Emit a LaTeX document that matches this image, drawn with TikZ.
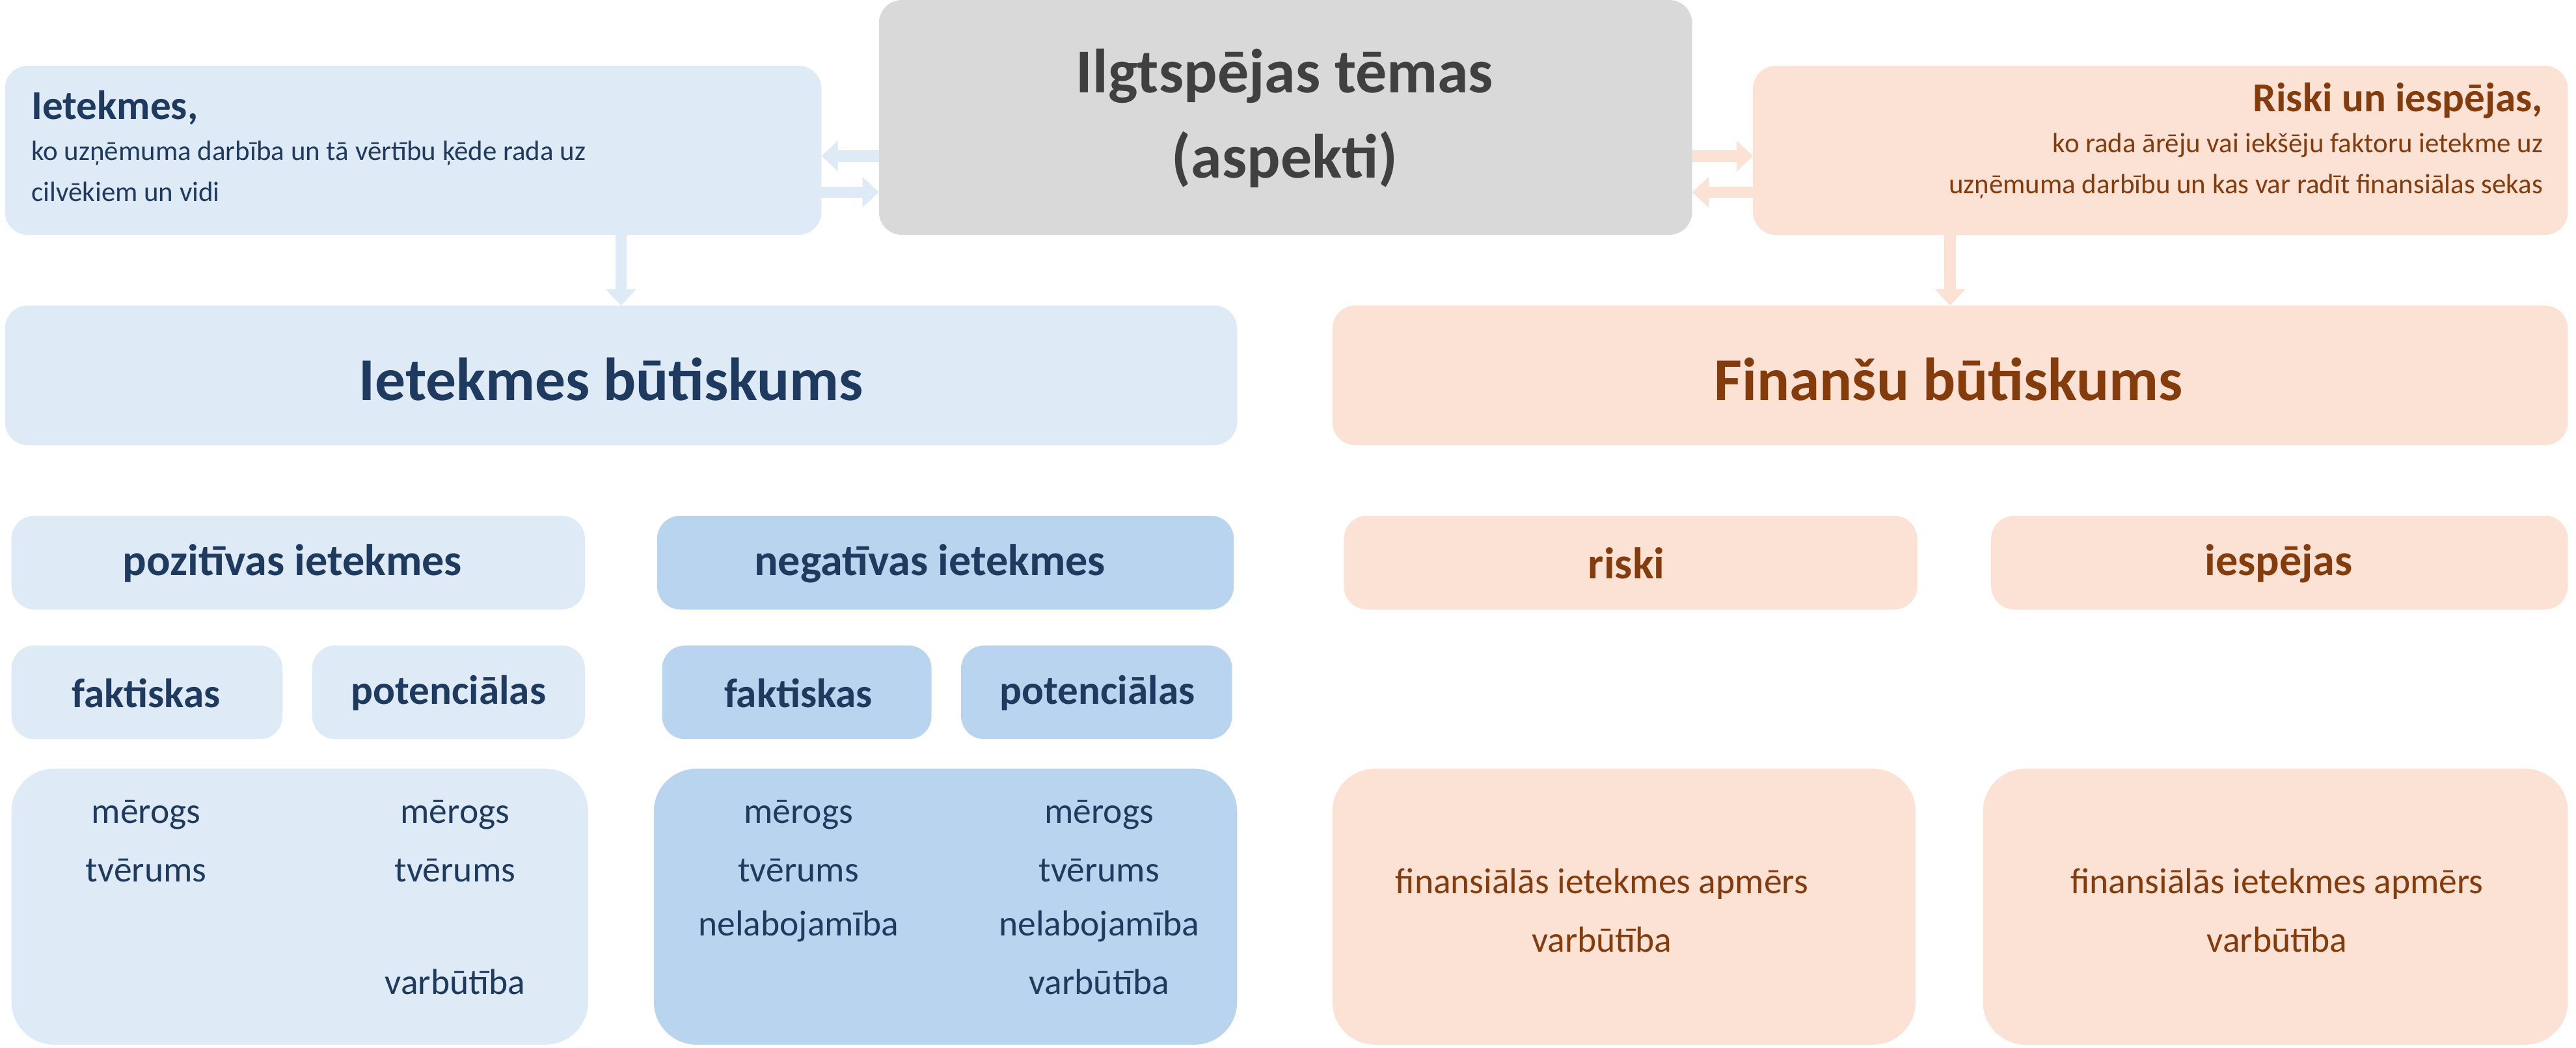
\documentclass[tikz,border=0pt]{standalone}
\usepackage{fontspec}
\setmainfont{Carlito}
\usetikzlibrary{arrows.meta}
\definecolor{lb}{HTML}{DEEAF6}
\definecolor{mb}{HTML}{B8D4EE}
\definecolor{db}{HTML}{1F3A5F}
\definecolor{lo}{HTML}{FBE2D5}
\definecolor{do}{HTML}{843C0C}
\definecolor{gr}{HTML}{D9D9D9}
\definecolor{dg}{HTML}{404040}
\newcommand{\fs}[2]{\fontsize{#1}{#2}\selectfont}
\begin{document}
\begin{tikzpicture}[x=1pt,y=-1pt]
\tikzset{
 bx/.style={rounded corners=14pt,draw=none},
 arr/.style={line width=7pt,-{Triangle[width=18pt,length=10pt]}},
}
\useasboundingbox (0,0) rectangle (1568,638);
% top
\fill[gr,bx] (535,0) rectangle (1030,143);
\node[text=dg,align=center,font=\fs{38}{52}\bfseries] (top) at (782,72) {Ilgtspējas tēmas\\(aspekti)};
\fill[lb,bx] (3,40) rectangle (500,143);
\node[anchor=north west,text=db,align=left,inner sep=0,font=\fs{17}{25}] (lt) at (19,55) {{\fs{25}{30}\bfseries Ietekmes,}\\ko uzņēmuma darbība un tā vērtību ķēde rada uz\\cilvēkiem un vidi};
\fill[lo,bx] (1067,40) rectangle (1563,143);
\node[anchor=north east,text=do,align=right,inner sep=0,font=\fs{17}{25}] (rt) at (1548,50) {{\fs{25}{30}\bfseries Riski un iespējas,}\\ko rada ārēju vai iekšēju faktoru ietekme uz\\uzņēmuma darbību un kas var radīt finansiālas sekas};
\coordinate (gl1) at (535,95); \coordinate (ll1) at (500,95);
\coordinate (gl2) at (535,117); \coordinate (ll2) at (500,117);
\coordinate (gr1) at (1030,95); \coordinate (rr1) at (1067,95);
\coordinate (gr2) at (1030,117); \coordinate (rr2) at (1067,117);
\draw[arr,lb] (gl1) -- (ll1);
\draw[arr,lb] (ll2) -- (gl2);
\draw[arr,lo] (gr1) -- (rr1);
\draw[arr,lo] (rr2) -- (gr2);
\coordinate (ld1) at (378,143); \coordinate (ld2) at (378,186);
\coordinate (rd1) at (1187,143); \coordinate (rd2) at (1187,186);
\draw[arr,lb] (ld1) -- (ld2);
\draw[arr,lo] (rd1) -- (rd2);
% big
\fill[lb,bx] (3,186) rectangle (753,271);
\node[text=db,font=\fs{37}{40}\bfseries] (ib) at (372,231) {Ietekmes būtiskums};
\fill[lo,bx] (811,186) rectangle (1563,271);
\node[text=do,font=\fs{37}{40}\bfseries] (fb) at (1186,231) {Finanšu būtiskums};
% row
\fill[lb,bx] (7,314) rectangle (356,371);
\node[text=db,font=\fs{27}{30}\bfseries] (p) at (178,343) {pozitīvas ietekmes};
\fill[mb,bx] (400,314) rectangle (751,371);
\node[text=db,font=\fs{27}{30}\bfseries] (n) at (566,343) {negatīvas ietekmes};
\fill[lo,bx] (818,314) rectangle (1167,371);
\node[text=do,font=\fs{27}{30}\bfseries] (r) at (990,343) {riski};
\fill[lo,bx] (1212,314) rectangle (1563,371);
\node[text=do,font=\fs{27}{30}\bfseries] (i) at (1387,343) {iespējas};
% sub row
\fill[lb,bx] (7,393) rectangle (172,450);
\node[text=db,font=\fs{25}{30}\bfseries] (pf) at (89,422) {faktiskas};
\fill[lb,bx] (190,393) rectangle (356,450);
\node[text=db,font=\fs{25}{30}\bfseries] (pp) at (273,422) {potenciālas};
\fill[mb,bx] (403,393) rectangle (567,450);
\node[text=db,font=\fs{25}{30}\bfseries] (nf) at (486,422) {faktiskas};
\fill[mb,bx] (585,393) rectangle (750,450);
\node[text=db,font=\fs{25}{30}\bfseries] (np) at (668,422) {potenciālas};
% bottom
\fill[lb,rounded corners=26pt] (7,468) rectangle (358,636);
\fill[mb,rounded corners=26pt] (398,468) rectangle (753,636);
\fill[lo,rounded corners=26pt] (811,468) rectangle (1166,636);
\fill[lo,rounded corners=26pt] (1207,468) rectangle (1563,636);
\begin{scope}[every node/.style={text=db,font=\fs{22}{26}}]
\node (a1) at (89,496) {mērogs};
\node (a2) at (89,530) {tvērums};
\node (b1) at (277,496) {mērogs};
\node (b2) at (277,530) {tvērums};
\node (b3) at (277,598) {varbūtība};
\node (c1) at (486,496) {mērogs};
\node (c2) at (486,530) {tvērums};
\node (c3) at (486,564) {nelabojamība};
\node (d1) at (669,496) {mērogs};
\node (d2) at (669,530) {tvērums};
\node (d3) at (669,564) {nelabojamība};
\node (d4) at (669,598) {varbūtība};
\end{scope}
\begin{scope}[every node/.style={text=do,font=\fs{22}{26}}]
\node (e1) at (975,538) {finansiālās ietekmes apmērs};
\node (e2) at (975,572) {varbūtība};
\node (f1) at (1386,538) {finansiālās ietekmes apmērs};
\node (f2) at (1386,572) {varbūtība};
\end{scope}
\end{tikzpicture}
\end{document}
